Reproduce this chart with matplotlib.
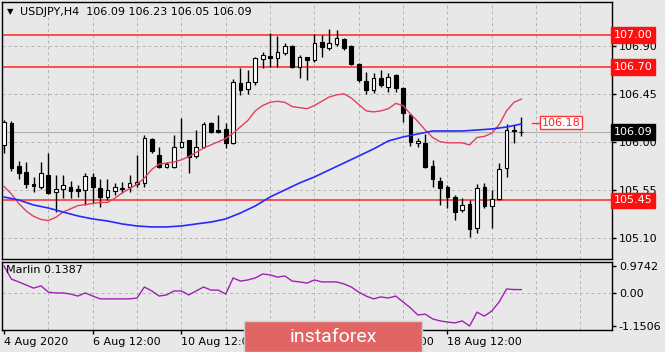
import numpy as np
import matplotlib.pyplot as plt
from matplotlib.patches import Rectangle
from matplotlib.transforms import blended_transform_factory

# USDJPY H4 candles
opens = [105.970, 106.176, 105.772, 105.716, 105.603, 105.575, 105.688, 105.528, 105.556, 105.575,
         105.556, 105.547, 105.669, 105.566, 105.481, 105.538, 105.556, 105.575, 105.603, 105.613,
         106.026, 105.876, 105.763, 105.763, 105.951, 106.016, 105.866, 105.951, 106.176, 106.110,
         106.120, 105.988, 106.552, 106.495, 106.561, 106.777, 106.805, 106.786, 106.833, 106.899,
         106.702, 106.796, 106.768, 106.937, 106.880, 106.918, 106.965, 106.899, 106.730, 106.570,
         106.486, 106.599, 106.514, 106.627, 106.505, 106.251, 105.988, 105.988, 105.772, 105.631,
         105.575, 105.481, 105.359, 105.415, 105.190, 105.575, 105.397, 105.462, 105.754, 106.110,
         106.090]
highs = [106.204, 106.195, 105.819, 105.810, 105.669, 105.810, 105.894, 105.688, 105.688, 105.631,
         105.594, 105.707, 105.707, 105.650, 105.650, 105.613, 105.622, 105.688, 105.876, 106.063,
         106.035, 105.951, 105.810, 106.063, 106.223, 106.020, 106.110, 106.185, 106.185, 106.251,
         106.176, 106.589, 106.692, 106.674, 106.796, 106.843, 107.021, 106.993, 106.927, 106.908,
         106.815, 106.796, 107.012, 107.002, 107.059, 107.049, 106.974, 106.908, 106.739, 106.655,
         106.646, 106.674, 106.646, 106.636, 106.514, 106.270, 106.035, 106.073, 105.829, 105.669,
         105.594, 105.500, 105.472, 105.453, 105.603, 105.613, 105.547, 105.800, 106.167, 106.157,
         106.230]
lows = [105.894, 105.725, 105.650, 105.566, 105.528, 105.556, 105.509, 105.340, 105.472, 105.472,
        105.481, 105.406, 105.425, 105.387, 105.453, 105.500, 105.519, 105.528, 105.575, 105.575,
        105.894, 105.754, 105.754, 105.754, 105.941, 105.707, 105.847, 105.941, 106.082, 106.082,
        105.941, 105.979, 106.439, 106.448, 106.533, 106.692, 106.702, 106.702, 106.815, 106.692,
        106.599, 106.580, 106.749, 106.796, 106.862, 106.899, 106.862, 106.721, 106.561, 106.448,
        106.458, 106.514, 106.467, 106.467, 106.185, 105.960, 105.951, 105.754, 105.575, 105.406,
        105.378, 105.265, 105.340, 105.106, 105.143, 105.378, 105.190, 105.453, 105.669, 105.988,
        106.050]
closes = [106.185, 105.754, 105.707, 105.603, 105.585, 105.707, 105.519, 105.556, 105.594, 105.538,
          105.538, 105.678, 105.575, 105.481, 105.547, 105.575, 105.566, 105.613, 105.622, 106.035,
          105.913, 105.763, 105.791, 105.951, 105.998, 105.857, 105.951, 106.167, 106.092, 106.092,
          105.988, 106.561, 106.486, 106.561, 106.786, 106.815, 106.786, 106.843, 106.899, 106.702,
          106.796, 106.768, 106.927, 106.890, 106.927, 106.974, 106.880, 106.730, 106.580, 106.486,
          106.599, 106.533, 106.608, 106.505, 106.270, 105.998, 106.007, 105.763, 105.650, 105.566,
          105.481, 105.340, 105.406, 105.181, 105.566, 105.397, 105.462, 105.744, 106.110, 106.101,
          106.090]

red_ma = [105.58, 105.51, 105.42, 105.35, 105.30, 105.27, 105.26, 105.29, 105.34, 105.37,
          105.40, 105.41, 105.42, 105.43, 105.43, 105.47, 105.52, 105.56, 105.60, 105.66,
          105.74, 105.79, 105.80, 105.81, 105.83, 105.86, 105.90, 105.94, 105.97, 106.00,
          106.03, 106.08, 106.14, 106.20, 106.29, 106.34, 106.37, 106.38, 106.37, 106.33,
          106.32, 106.31, 106.34, 106.38, 106.42, 106.44, 106.45, 106.41, 106.35, 106.29,
          106.28, 106.29, 106.31, 106.36, 106.34, 106.26, 106.19, 106.11, 106.04, 106.00,
          105.99, 105.99, 105.99, 105.97, 106.04, 106.05, 106.08, 106.16, 106.29, 106.37,
          106.40]
blue_idx = list(range(0, 71, 2))
blue_ma = [105.481, 105.453, 105.406, 105.378, 105.340, 105.303, 105.275, 105.256, 105.228, 105.209,
           105.200, 105.200, 105.209, 105.228, 105.246, 105.275, 105.331, 105.397, 105.481, 105.547,
           105.613, 105.669, 105.735, 105.800, 105.866, 105.932, 106.007, 106.045, 106.073, 106.101,
           106.101, 106.101, 106.110, 106.120, 106.138, 106.167]

marlin = [0.9742, 0.51, 0.41, 0.30, 0.19, 0.27, 0.05, 0.02, 0.02, -0.02,
          -0.09, 0.02, -0.09, -0.19, -0.19, -0.19, -0.19, -0.19, -0.16, 0.23,
          0.09, -0.09, -0.05, 0.09, 0.09, -0.05, 0.09, 0.23, 0.12, 0.12,
          -0.02, 0.55, 0.44, 0.48, 0.55, 0.69, 0.66, 0.58, 0.62, 0.44,
          0.41, 0.37, 0.48, 0.41, 0.41, 0.41, 0.34, 0.23, 0.05, -0.09,
          -0.19, -0.12, -0.16, -0.09, -0.30, -0.51, -0.76, -0.73, -0.90, -0.97,
          -1.01, -1.04, -0.97, -1.1506, -0.66, -0.80, -0.62, -0.30, 0.16, 0.14,
          0.1387]

levels = [107.00, 106.70, 105.45]
price_ticks = [106.90, 106.45, 106.00, 105.55, 105.10]
marlin_ticks = [0.9742, 0.00, -1.1506]
marlin_labels = ['0.9742', '0.00', '-1.1506']
date_idx = [0, 12, 24, 36, 48, 60]
date_labels = ['4 Aug 2020', '6 Aug 12:00', '10 Aug 12:00', '12 Aug 12:00', '14 Aug 12:00', '18 Aug 12:00']
last_price = 106.09
alert_price = 106.18

bg = '#e8e8e8'
grid_c = '#b4b4b4'
fig = plt.figure(figsize=(6.65, 3.52), dpi=100, facecolor=bg)
ax = fig.add_axes([2/665, 1-259/352, 610/665, 257/352], facecolor=bg)
ax2 = fig.add_axes([2/665, 1-330/352, 610/665, 68/352], facecolor=bg)

xlim = (-0.27, 82.27)
for a in (ax, ax2):
    a.set_xlim(*xlim)
    for s in a.spines.values():
        s.set_color('black')
        s.set_linewidth(1)
    for g in np.arange(6, 83, 6):
        a.axvline(g, color=grid_c, lw=0.7, ls=(0, (3, 3)), zorder=0)

ax.set_ylim(104.899, 107.312)
ax2.set_ylim(-1.292, 1.115)

# grid and levels
for p in price_ticks:
    ax.axhline(p, color=grid_c, lw=0.7, ls=(0, (3, 3)), zorder=0)
ax2.axhline(0, color=grid_c, lw=0.7, ls=(0, (3, 3)), zorder=0)
ax.axhline(last_price, color='#b0b0b0', lw=0.8, zorder=1)
for lv in levels:
    ax.axhline(lv, color='#ff3535', lw=1.2, zorder=2)

# candles
x = np.arange(len(opens))
o = np.array(opens); c = np.array(closes)
ax.vlines(x, lows, highs, color='black', lw=1, zorder=3)
body = np.maximum(np.abs(c - o), 0.004)
cols = ['white' if cc >= oo else 'black' for oo, cc in zip(o, c)]
ax.bar(x, body, bottom=np.minimum(o, c), width=0.5, color=cols, edgecolor='black', lw=0.8, zorder=4)

ax.plot(x, red_ma, color='#e2405e', lw=1, zorder=5)
ax.plot(blue_idx, blue_ma, color='#2828ff', lw=1.2, zorder=5)

# alert label
ax.plot([71.4, 72.5], [alert_price, alert_price], color='#ff3535', lw=1, clip_on=False)
ax.text(72.75, alert_price, f'{alert_price:.2f}', color='#ff2020', fontsize=8, va='center', ha='left',
        bbox=dict(boxstyle='square,pad=0.15', fc='white', ec='#ff3535', lw=1), zorder=6)

# right axis
ax.set_xticks([])
ax.yaxis.tick_right()
ax.set_yticks(price_ticks)
ax.set_yticklabels([f'{p:.2f}' for p in price_ticks], fontsize=8)
ax.tick_params(axis='y', length=3, pad=2, width=1)
tr = blended_transform_factory(ax.transAxes, ax.transData)
for lv in levels:
    ax.text(1.003, lv, f'{lv:.2f}', transform=tr, color='white', fontsize=8, va='center', ha='left',
            bbox=dict(boxstyle='square,pad=0.25', fc='#ff1010', ec='#ff1010'), clip_on=False, zorder=10)
ax.text(1.003, last_price, f'{last_price:.2f}', transform=tr, color='white', fontsize=8, va='center', ha='left',
        bbox=dict(boxstyle='square,pad=0.25', fc='black', ec='black'), clip_on=False, zorder=10)

# Marlin panel
ax2.plot(x, marlin, color='#a020b4', lw=1)
ax2.yaxis.tick_right()
ax2.set_yticks(marlin_ticks)
ax2.set_yticklabels(marlin_labels, fontsize=8)
ax2.tick_params(axis='y', length=3, pad=2, width=1)
ax2.set_xticks(date_idx)
ax2.set_xticklabels(date_labels, fontsize=8, ha='left')
ax2.tick_params(axis='x', length=3, pad=2, width=1)
ax2.text(0.007, 0.88, f'Marlin {marlin[-1]:.4f}', transform=ax2.transAxes, fontsize=8, va='center')

# title
fig.text(7/665, 1-12/352, '\u25bc', fontsize=6, va='center')
fig.text(20/665, 1-12/352, 'USDJPY,H4  106.09 106.23 106.05 106.09', fontsize=8, va='center')

# logo
fig.patches.append(Rectangle((244/665, 0), 178/665, 31/352, transform=fig.transFigure,
                             fc='#e16565', ec='#d0d0d0', lw=1, zorder=20))
fig.text(333/665, 15/352, 'instaforex', color='white', fontsize=14, ha='center', va='center',
         family='Roboto', zorder=21)

plt.savefig('out.png', dpi=100, facecolor=bg)
